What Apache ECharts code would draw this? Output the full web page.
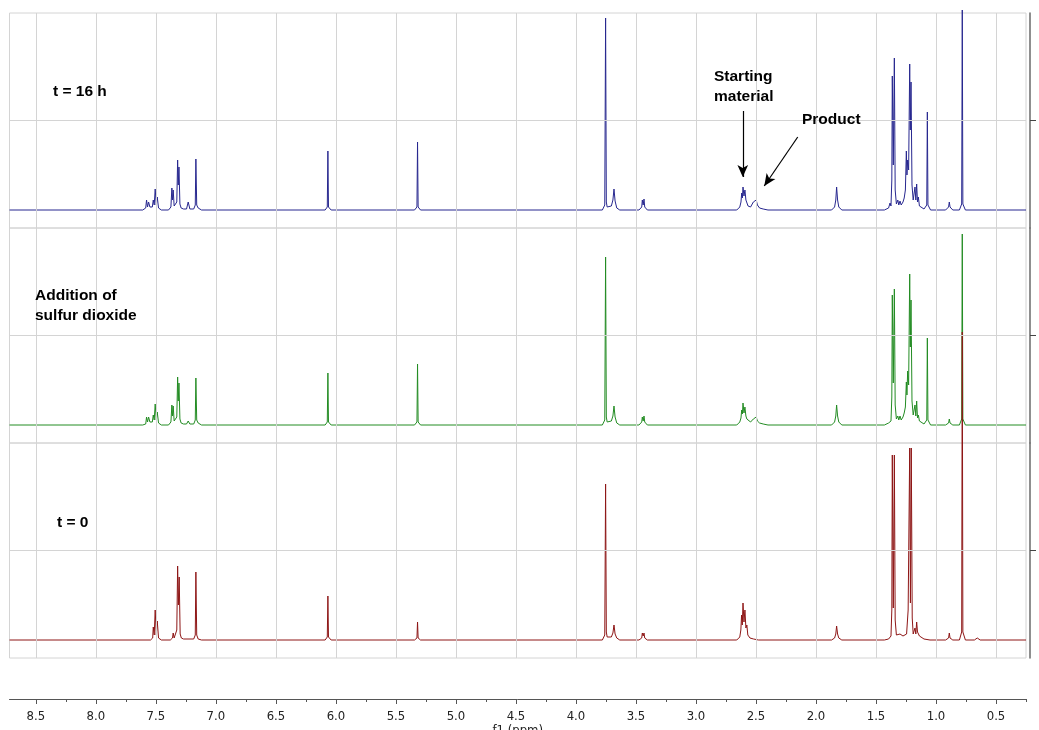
<!DOCTYPE html>
<html>
<head>
<meta charset="utf-8">
<title>1H NMR – reaction monitoring</title>
<script src="https://cdn.jsdelivr.net/npm/echarts@6/dist/echarts.min.js"></script>
<style>
  html, body { margin: 0; padding: 0; background: #ffffff; }
  #chart { width: 1039px; height: 730px; }
</style>
</head>
<body>
<div id="chart"></div>
<script>
// Chemical-shift scale (ppm)
const ppmMin = 0.25;
const ppmMax = 8.72;
const majorTicks = [8.5, 8.0, 7.5, 7.0, 6.5, 6.0, 5.5, 5.0, 4.5, 4.0, 3.5, 3.0, 2.5, 2.0, 1.5, 1.0, 0.5];
const minorTicks = [8.25, 7.75, 7.25, 6.75, 6.25, 5.75, 5.25, 4.75, 4.25, 3.75, 3.25, 2.75, 2.25, 1.75, 1.25, 0.75, 0.25];

// Intensity scale of every stacked panel (baseline at 0)
const intensityMin = -18;
const intensityMax = 197;
const intensityGrid = [90];

// Spectrum after 16 h: [ppm, intensity]
const spectrumT16 = [
  [8.72, 0],
  [7.610, 0], [7.585, 2], [7.578, 10], [7.570, 3], [7.561, 8], [7.550, 3], [7.539, 5], [7.530, 3], [7.522, 10], [7.514, 5], [7.506, 21], [7.497, 5], [7.489, 13], [7.478, 2], [7.455, 0],
  [7.395, 0], [7.375, 3], [7.367, 22], [7.362, 10], [7.356, 20], [7.348, 4], [7.333, 3], [7.326, 8], [7.319, 50], [7.314, 25], [7.308, 43], [7.300, 6], [7.290, 2], [7.270, 1],
  [7.245, 1], [7.231, 8], [7.217, 1],
  [7.185, 1], [7.172, 5], [7.167, 51], [7.160, 5], [7.148, 2], [7.140, 3], [7.120, 0],
  [6.090, 0], [6.072, 3], [6.067, 59], [6.062, 3], [6.040, 0],
  [5.345, 0], [5.325, 3], [5.320, 68], [5.315, 3], [5.295, 0],
  [3.780, 0], [3.760, 5], [3.753, 192], [3.747, 8], [3.740, 3], [3.725, 2], [3.705, 4], [3.692, 10], [3.683, 21], [3.674, 9], [3.660, 2], [3.635, 0],
  [3.475, 0], [3.452, 3], [3.447, 10], [3.440, 5], [3.433, 11], [3.427, 3], [3.405, 0],
  [2.660, 0], [2.635, 3], [2.625, 8], [2.619, 17], [2.613, 12], [2.608, 23], [2.600, 14], [2.592, 20], [2.584, 10], [2.576, 8], [2.566, 4], [2.545, 3], [2.530, 5], [2.522, 8], [2.515, 9], [2.507, 7], [2.498, 10], [2.488, 5], [2.470, 2], [2.440, 1], [2.400, 0],
  [1.870, 0], [1.845, 3], [1.835, 10], [1.828, 23], [1.820, 10], [1.810, 3], [1.785, 0],
  [1.430, 0], [1.395, 2], [1.383, 7], [1.375, 4], [1.368, 30], [1.364, 134], [1.356, 45], [1.347, 152], [1.340, 20], [1.330, 6], [1.318, 10], [1.310, 5], [1.300, 9], [1.290, 5], [1.275, 8], [1.265, 12], [1.255, 20], [1.247, 59], [1.242, 35], [1.236, 50], [1.228, 40], [1.219, 146], [1.214, 80], [1.208, 128], [1.200, 25], [1.190, 10], [1.182, 12], [1.175, 23], [1.168, 10], [1.161, 26], [1.154, 8], [1.147, 13], [1.138, 4], [1.125, 2], [1.100, 1],
  [1.090, 1], [1.077, 5], [1.072, 98], [1.067, 5], [1.045, 0],
  [0.920, 0], [0.895, 3], [0.889, 8], [0.883, 3], [0.860, 0],
  [0.805, 0], [0.786, 6], [0.781, 200], [0.776, 6], [0.755, 0],
  [0.25, 0]
];

// Spectrum right after addition of SO2
const spectrumSO2 = [
  [8.72, 0],
  [7.610, 0], [7.585, 1], [7.578, 8], [7.570, 3], [7.561, 8], [7.550, 3], [7.539, 4], [7.530, 3], [7.522, 10], [7.514, 5], [7.506, 21], [7.497, 5], [7.489, 13], [7.478, 2], [7.455, 0],
  [7.395, 0], [7.375, 3], [7.367, 20], [7.362, 9], [7.356, 19], [7.348, 4], [7.333, 3], [7.326, 8], [7.319, 48], [7.314, 24], [7.308, 42], [7.300, 6], [7.290, 2], [7.270, 1],
  [7.245, 1], [7.231, 4], [7.217, 1],
  [7.185, 1], [7.172, 5], [7.167, 47], [7.160, 5], [7.148, 2], [7.140, 3], [7.120, 0],
  [6.090, 0], [6.072, 3], [6.067, 52], [6.062, 3], [6.040, 0],
  [5.345, 0], [5.325, 3], [5.320, 61], [5.315, 3], [5.295, 0],
  [3.780, 0], [3.760, 5], [3.753, 168], [3.747, 8], [3.740, 3], [3.725, 2], [3.705, 4], [3.692, 9], [3.683, 19], [3.674, 8], [3.660, 2], [3.635, 0],
  [3.475, 0], [3.452, 3], [3.447, 8], [3.440, 4], [3.433, 9], [3.427, 3], [3.405, 0],
  [2.660, 0], [2.635, 3], [2.625, 7], [2.619, 15], [2.613, 11], [2.608, 22], [2.600, 12], [2.592, 18], [2.584, 9], [2.576, 6], [2.566, 4], [2.545, 3], [2.530, 4], [2.522, 6], [2.515, 8], [2.507, 7], [2.498, 8], [2.488, 4], [2.470, 2], [2.440, 1], [2.400, 0],
  [1.870, 0], [1.845, 3], [1.835, 9], [1.828, 20], [1.820, 9], [1.810, 3], [1.785, 0],
  [1.430, 0], [1.395, 2], [1.383, 4], [1.375, 4], [1.368, 28], [1.364, 130], [1.356, 42], [1.347, 136], [1.340, 20], [1.330, 6], [1.318, 9], [1.310, 5], [1.300, 9], [1.290, 5], [1.275, 8], [1.265, 12], [1.255, 18], [1.247, 43], [1.242, 30], [1.236, 54], [1.228, 40], [1.219, 151], [1.214, 78], [1.208, 125], [1.200, 24], [1.190, 10], [1.182, 12], [1.175, 20], [1.168, 9], [1.161, 24], [1.154, 7], [1.147, 10], [1.138, 4], [1.125, 2], [1.100, 1],
  [1.090, 1], [1.077, 5], [1.072, 87], [1.067, 5], [1.045, 0],
  [0.920, 0], [0.895, 2], [0.889, 6], [0.883, 2], [0.860, 0],
  [0.805, 0], [0.786, 6], [0.781, 191], [0.776, 6], [0.755, 0],
  [0.25, 0]
];

// Spectrum at t = 0
const spectrumT0 = [
  [8.72, 0],
  [7.545, 0], [7.527, 2], [7.522, 13], [7.514, 5], [7.506, 30], [7.497, 5], [7.489, 19], [7.478, 2], [7.455, 0],
  [7.380, 0], [7.362, 2], [7.356, 7], [7.348, 2], [7.333, 3], [7.326, 10], [7.319, 74], [7.313, 35], [7.306, 63], [7.298, 6], [7.288, 2], [7.270, 1],
  [7.185, 1], [7.172, 5], [7.167, 68], [7.160, 5], [7.148, 1], [7.120, 0],
  [6.090, 0], [6.072, 3], [6.067, 44], [6.062, 3], [6.040, 0],
  [5.345, 0], [5.325, 2], [5.320, 18], [5.315, 2], [5.295, 0],
  [3.780, 0], [3.760, 5], [3.753, 156], [3.747, 8], [3.740, 3], [3.725, 2], [3.705, 3], [3.692, 7], [3.683, 15], [3.674, 6], [3.660, 2], [3.635, 0],
  [3.475, 0], [3.452, 2], [3.447, 7], [3.440, 4], [3.433, 7], [3.427, 2], [3.405, 0],
  [2.660, 0], [2.635, 3], [2.626, 10], [2.620, 25], [2.614, 15], [2.608, 37], [2.600, 18], [2.592, 30], [2.584, 12], [2.576, 15], [2.568, 5], [2.550, 2], [2.520, 1], [2.480, 0],
  [1.870, 0], [1.845, 2], [1.835, 6], [1.828, 14], [1.820, 6], [1.810, 2], [1.785, 0],
  [1.430, 0], [1.395, 1], [1.375, 4], [1.368, 30], [1.364, 185], [1.356, 32], [1.347, 185], [1.340, 20], [1.330, 5], [1.318, 4], [1.300, 6], [1.290, 5], [1.275, 4], [1.260, 4], [1.245, 6], [1.232, 30], [1.219, 192], [1.213, 37], [1.206, 192], [1.198, 22], [1.190, 6], [1.182, 8], [1.175, 12], [1.168, 6], [1.161, 18], [1.154, 8], [1.147, 10], [1.138, 4], [1.125, 2], [1.100, 1], [1.050, 0],
  [0.920, 0], [0.895, 2], [0.889, 7], [0.883, 2], [0.860, 0],
  [0.805, 0], [0.786, 8], [0.781, 308], [0.776, 8], [0.755, 0],
  [0.680, 0], [0.656, 2], [0.632, 0],
  [0.25, 0]
];

const spectra = [spectrumT16, spectrumSO2, spectrumT0];
const spectrumColors = ['#27278f', '#238c23', '#8e1616'];

// Arrows pointing at the starting-material and product multiplets (top panel, data units)
const arrowStartingMaterial = [[2.61, 99], [2.61, 33]];
const arrowProduct = [[2.152, 73], [2.431, 24]];

const gridLineColor = '#d4d4d4';
const panelTops = [13, 228, 443];
const panelHeight = 215;
const tickFont = '"DejaVu Sans Condensed", "DejaVu Sans", sans-serif';

const chart = echarts.init(document.getElementById('chart'), null, { renderer: 'canvas' });

const grids = [];
const xAxes = [];
const yAxes = [];
const series = [];

panelTops.forEach((top, i) => {
  grids.push({
    left: 9.5, right: 13, top: top, height: panelHeight, outerBoundsMode: 'none',
    show: true, borderColor: gridLineColor, borderWidth: 1, backgroundColor: 'transparent'
  });
  xAxes.push({
    type: 'value', gridIndex: i, min: ppmMin, max: ppmMax, inverse: true, position: 'bottom',
    axisLine: { show: false }, axisTick: { show: false }, axisLabel: { show: false }, splitLine: { show: false }
  });
  yAxes.push({
    type: 'value', gridIndex: i, min: intensityMin, max: intensityMax, position: 'right', offset: 4,
    axisLine: { show: true, lineStyle: { color: '#6a6a6a', width: 1.5 } },
    axisTick: { show: true, inside: false, length: 6, customValues: intensityGrid, lineStyle: { color: '#444', width: 1 } },
    axisLabel: { show: false }, splitLine: { show: false }
  });
  // panel grid lines (behind the spectrum)
  const lines = majorTicks.map(v => ({ xAxis: v }))
    .concat(intensityGrid.map(v => ({ yAxis: v })));
  series.push({
    type: 'line', xAxisIndex: i, yAxisIndex: i, z: 1, silent: true,
    data: [[ppmMax, 0], [ppmMin, 0]], showSymbol: false,
    lineStyle: { opacity: 0 },
    markLine: {
      silent: true, symbol: ['none', 'none'], animation: false,
      label: { show: false },
      lineStyle: { color: gridLineColor, width: 1, type: 'solid' },
      emphasis: { disabled: true },
      data: lines
    }
  });
  series.push({
    type: 'line', xAxisIndex: i, yAxisIndex: i, z: 3,
    data: spectra[i], showSymbol: false, clip: false, sampling: null,
    lineStyle: { color: spectrumColors[i], width: 1 },
    itemStyle: { color: spectrumColors[i] },
    emphasis: { disabled: true }
  });
});

// annotation arrows in the top panel
series.push({
  type: 'line', xAxisIndex: 0, yAxisIndex: 0, z: 4, silent: true,
  data: [], showSymbol: false,
  markLine: {
    silent: true, animation: false,
    symbol: ['none', 'arrow'], symbolSize: [8, 12],
    label: { show: false },
    lineStyle: { color: '#000', width: 1.2, type: 'solid' },
    emphasis: { disabled: true },
    data: [
      [{ coord: arrowStartingMaterial[0] }, { coord: arrowStartingMaterial[1] }],
      [{ coord: arrowProduct[0] }, { coord: arrowProduct[1] }]
    ]
  }
});

// bottom ppm axis
grids.push({ left: 9.5, right: 13, top: 689, height: 10, show: false, outerBoundsMode: 'none' });
xAxes.push({
  type: 'value', gridIndex: 3, min: ppmMin, max: ppmMax, inverse: true, position: 'bottom',
  name: 'f1 (ppm)', nameLocation: 'middle', nameGap: 23,
  nameTextStyle: { color: '#222', fontSize: 13, fontFamily: tickFont },
  axisLine: { show: true, lineStyle: { color: '#555', width: 1 } },
  axisTick: { show: true, length: 5, customValues: majorTicks, lineStyle: { color: '#555', width: 1 } },
  axisLabel: {
    show: true, customValues: majorTicks, margin: 11,
    color: '#222', fontSize: 13, fontFamily: tickFont,
    formatter: v => v.toFixed(1)
  },
  splitLine: { show: false }
});
xAxes.push({
  type: 'value', gridIndex: 3, min: ppmMin, max: ppmMax, inverse: true, position: 'bottom',
  axisLine: { show: false },
  axisTick: { show: true, length: 3, customValues: minorTicks, lineStyle: { color: '#555', width: 1 } },
  axisLabel: { show: false }, splitLine: { show: false }
});
yAxes.push({ type: 'value', gridIndex: 3, show: false });

const labelFont = 'bold 15.5px "Liberation Sans", Arial, sans-serif';
const textEl = (x, y, text) => ({
  type: 'text', x: x, y: y, z: 10, silent: true,
  style: { text: text, font: labelFont, fill: '#000', verticalAlign: 'middle', align: 'left' }
});

chart.setOption({
  animation: false,
  backgroundColor: '#ffffff',
  grid: grids,
  xAxis: xAxes,
  yAxis: yAxes,
  series: series,
  graphic: [
    textEl(53, 92, 't = 16 h'),
    textEl(35, 296, 'Addition of'),
    textEl(35, 316, 'sulfur dioxide'),
    textEl(57, 523, 't = 0'),
    textEl(714, 77, 'Starting'),
    textEl(714, 97, 'material'),
    textEl(802, 120, 'Product')
  ]
});
</script>
</body>
</html>
